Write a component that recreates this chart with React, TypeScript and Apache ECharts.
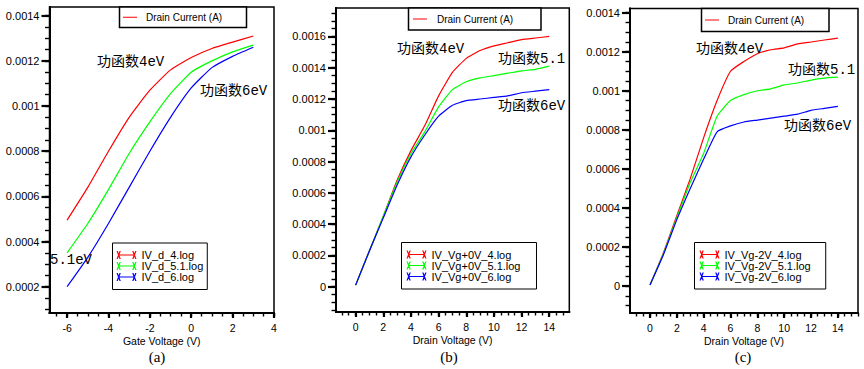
import React, { useEffect, useRef } from 'react';
import * as echarts from 'echarts';

// ---------- data ----------
const gateVoltage = [-6, -5, -4, -3, -2, -1, 0, 1, 2, 3];
const idA_4eV = [0.000495, 0.00064, 0.0008, 0.00095, 0.00107, 0.00116, 0.001215, 0.001255, 0.001283, 0.00131];
const idA_51eV = [0.00035, 0.00048, 0.00063, 0.00079, 0.00093, 0.001055, 0.00115, 0.0012, 0.00124, 0.00127];
const idA_6eV = [0.0002, 0.00033, 0.00048, 0.00064, 0.0008, 0.00095, 0.00108, 0.00117, 0.00122, 0.00126];

const drainVoltage = [0, 1, 2, 3, 4, 5, 6, 7, 8, 9, 10, 11, 12, 13, 14];
const idB_4eV = [0.00001, 0.00023, 0.00045, 0.00068, 0.00087, 0.00103, 0.00122, 0.00137, 0.00146, 0.00151, 0.00154, 0.00156, 0.00158, 0.00159, 0.0016];
const idB_51eV = [0.00001, 0.00023, 0.00045, 0.00067, 0.00085, 0.00099, 0.00115, 0.00126, 0.00131, 0.001335, 0.00135, 0.001365, 0.00138, 0.00139, 0.00141];
const idB_6eV = [0.00001, 0.00023, 0.00044, 0.00065, 0.00083, 0.00097, 0.00109, 0.00116, 0.00119, 0.0012, 0.00121, 0.00122, 0.00124, 0.00125, 0.00126];

const idC_4eV = [0.000005, 0.00017, 0.00036, 0.00055, 0.00076, 0.00095, 0.0011, 0.00115, 0.00119, 0.00121, 0.00122, 0.00124, 0.00125, 0.00126, 0.00127];
const idC_51eV = [0.000005, 0.000165, 0.00035, 0.00053, 0.00068, 0.00087, 0.00095, 0.00098, 0.001, 0.00101, 0.00103, 0.00104, 0.001055, 0.001065, 0.00107];
const idC_6eV = [0.000005, 0.00016, 0.00034, 0.0005, 0.00065, 0.00079, 0.00082, 0.00084, 0.00085, 0.00086, 0.00087, 0.00088, 0.0009, 0.00091, 0.00092];

const namesA = ['IV_d_4.log', 'IV_d_5.1.log', 'IV_d_6.log'];
const namesB = ['IV_Vg+0V_4.log', 'IV_Vg+0V_5.1.log', 'IV_Vg+0V_6.log'];
const namesC = ['IV_Vg-2V_4.log', 'IV_Vg-2V_5.1.log', 'IV_Vg-2V_6.log'];

const xTicksA = [-6, -4, -2, 0, 2, 4];
const xTicksBC = [0, 2, 4, 6, 8, 10, 12, 14];
const yTicksA = [0.0002, 0.0004, 0.0006, 0.0008, 0.001, 0.0012, 0.0014];
const yTicksB = [0, 0.0002, 0.0004, 0.0006, 0.0008, 0.001, 0.0012, 0.0014, 0.0016];
const yTicksC = [0, 0.0002, 0.0004, 0.0006, 0.0008, 0.001, 0.0012, 0.0014];

const xTitleA = 'Gate Voltage (V)';
const xTitleBC = 'Drain Voltage (V)';
const yTitle = 'Drain Current (A)';
const captions = ['(a)', '(b)', '(c)'];
const labelsA = ['功函数4eV', '功函数6eV', '5.1eV'];
const labelsBC = ['功函数4eV', '功函数5.1', '功函数6eV'];

// ---------- styling ----------
const COLORS = ['#ff0000', '#00ff00', '#0000ff'];
const SANS = '"Liberation Sans", Arial, sans-serif';
const MONO_CJK = '"Liberation Mono", "Noto Sans CJK SC", monospace';
const SERIF = '"Liberation Serif", "DejaVu Serif", serif';
const LEGEND_ICON =
  'path://M0,0L1.3,0L4.3,8L3,8ZM3,0L4.3,0L1.3,8L0,8ZM2,3.4L18,3.4L18,4.6L2,4.6ZM15.7,0L17,0L20,8L18.7,8ZM18.7,0L20,0L17,8L15.7,8Z';

function steps(from: number, to: number, step: number): number[] {
  const out: number[] = [];
  const n = Math.round((to - from) / step);
  for (let i = 0; i <= n; i++) out.push(+(from + i * step).toFixed(8));
  return out;
}

const fmtY = (v: number) => {
  const r = parseFloat(Number(v).toPrecision(4));
  return r === 0 ? '0' : String(r);
};

function axisPair(
  isX: boolean,
  gridIndex: number,
  min: number,
  max: number,
  labels: number[],
  minors: number[],
  name?: string
) {
  const major: any = {
    type: 'value',
    gridIndex,
    min,
    max,
    position: isX ? 'bottom' : 'left',
    z: 5,
    splitLine: { show: false },
    axisLine: { show: true, onZero: false, lineStyle: { color: '#000', width: 2 } },
    axisTick: { show: true, customValues: labels, length: isX ? 5 : 8, lineStyle: { color: '#000', width: 2.2 } },
    axisLabel: {
      show: true,
      customValues: labels,
      formatter: isX ? (v: number) => String(v) : fmtY,
      fontFamily: SANS,
      fontSize: isX ? 10.5 : 11,
      color: '#000',
      margin: isX ? 9 : 10,
    },
  };
  if (name) {
    major.name = name;
    major.nameLocation = 'middle';
    major.nameGap = 22;
    major.nameMoveOverlap = false;
    major.nameTextStyle = { fontFamily: SANS, fontSize: 10.5, color: '#000' };
  }
  const minor: any = {
    type: 'value',
    gridIndex,
    min,
    max,
    position: isX ? 'bottom' : 'left',
    z: 6,
    splitLine: { show: false },
    axisLine: { show: true, onZero: false, lineStyle: { color: '#000', width: 2 } },
    axisTick: {
      show: true,
      customValues: minors,
      length: isX ? 3.5 : 4.5,
      lineStyle: { color: '#000', width: 1.4 },
    },
    axisLabel: { show: false },
  };
  return [major, minor];
}

function lineSeries(name: string, xs: number[], ys: number[], color: string, axisIndex: number) {
  return {
    type: 'line',
    name,
    xAxisIndex: axisIndex,
    yAxisIndex: axisIndex,
    data: xs.map((x, i) => [x, ys[i]]),
    showSymbol: false,
    symbol: 'none',
    smooth: 0.15,
    lineStyle: { color, width: 1.2 },
    itemStyle: { color },
    z: 3,
  };
}

function legendFor(names: string[], left: number, top: number, padding: number[]) {
  return {
    orient: 'vertical',
    left,
    top,
    padding,
    itemGap: 0,
    itemWidth: 20,
    itemHeight: 8,
    icon: LEGEND_ICON,
    selectedMode: false,
    backgroundColor: '#fff',
    borderColor: '#000',
    borderWidth: 1,
    itemStyle: { borderWidth: 0 },
    textStyle: { fontFamily: SANS, fontSize: 11, lineHeight: 11, color: '#000' },
    data: names.map((n, i) => ({ name: n, itemStyle: { color: COLORS[i], borderWidth: 0 } })),
  };
}

function currentBox(x: number, y: number, w: number, h: number, lineX: number, textX: number) {
  const cy = y + h / 2;
  return [
    { type: 'rect', z: 20, shape: { x, y, width: w, height: h }, style: { fill: '#fff', stroke: '#000', lineWidth: 1.5 } },
    { type: 'line', z: 21, shape: { x1: lineX, y1: cy, x2: lineX + 14, y2: cy }, style: { stroke: '#ff0000', lineWidth: 1 } },
    {
      type: 'text',
      z: 21,
      x: textX,
      y: cy,
      style: { text: yTitle, fontFamily: SANS, fontSize: 10, fill: '#000', textVerticalAlign: 'middle' },
    },
  ];
}

function note(text: string, x: number, y: number) {
  return {
    type: 'text',
    z: 15,
    x,
    y,
    style: { text, fontFamily: MONO_CJK, fontSize: 14, fill: '#000', textVerticalAlign: 'middle' },
  };
}

function caption(text: string, cx: number, y: number) {
  return {
    type: 'text',
    z: 15,
    x: cx,
    y,
    style: { text, fontFamily: SERIF, fontSize: 15, fill: '#000', textAlign: 'center', textVerticalAlign: 'middle' },
  };
}

export default function App() {
  const ref = useRef<HTMLDivElement>(null);

  useEffect(() => {
    document.body.style.margin = '0';
    if (!ref.current) return;
    const chart = echarts.init(ref.current, undefined, { renderer: 'svg' });

    const grids = [
      { left: 49.5, top: 7, width: 224.5, height: 306 },
      { left: 336, top: 8, width: 233.3, height: 304 },
      { left: 630, top: 8.5, width: 228, height: 304.5 },
    ].map((g) => ({ ...g, show: true, borderColor: '#000', borderWidth: 1.5, backgroundColor: 'transparent', containLabel: false, outerBoundsMode: 'none' }));

    const xAxis = [
      ...axisPair(true, 0, -6.85, 4.0, xTicksA, steps(-6.5, 4, 0.5), xTitleA),
      ...axisPair(true, 1, -1.42, 15.45, xTicksBC, steps(-1, 15, 0.5), xTitleBC),
      ...axisPair(true, 2, -1.49, 15.5, xTicksBC, steps(-1, 15.5, 0.5), xTitleBC),
    ];
    const yAxis = [
      ...axisPair(false, 0, 0.0000836, 0.0014385, yTicksA, steps(0.0001, 0.0014, 0.00005)),
      ...axisPair(false, 1, -0.000162, 0.001782, yTicksB, steps(-0.00015, 0.00175, 0.00005)),
      ...axisPair(false, 2, -0.0001383, 0.0014215, yTicksC, steps(-0.0001, 0.0014, 0.00005)),
    ];

    const series = [
      lineSeries(namesA[0], gateVoltage, idA_4eV, COLORS[0], 0),
      lineSeries(namesA[1], gateVoltage, idA_51eV, COLORS[1], 0),
      lineSeries(namesA[2], gateVoltage, idA_6eV, COLORS[2], 0),
      lineSeries(namesB[0], drainVoltage, idB_4eV, COLORS[0], 2),
      lineSeries(namesB[1], drainVoltage, idB_51eV, COLORS[1], 2),
      lineSeries(namesB[2], drainVoltage, idB_6eV, COLORS[2], 2),
      lineSeries(namesC[0], drainVoltage, idC_4eV, COLORS[0], 4),
      lineSeries(namesC[1], drainVoltage, idC_51eV, COLORS[1], 4),
      lineSeries(namesC[2], drainVoltage, idC_6eV, COLORS[2], 4),
    ];

    const graphic = [
      ...currentBox(119.5, 7, 127, 20.5, 123, 146),
      ...currentBox(408.5, 8, 132.5, 22, 413, 437),
      ...currentBox(701.5, 8.5, 127.5, 23, 705, 728),
      note(labelsA[0], 97, 62),
      note(labelsA[1], 200, 91),
      note(labelsA[2], 50, 260),
      note(labelsBC[0], 397, 49),
      note(labelsBC[1], 498, 59),
      note(labelsBC[2], 498, 106),
      note(labelsBC[0], 696, 49),
      note(labelsBC[1], 788, 70),
      note(labelsBC[2], 784, 126),
      caption(captions[0], 157, 357),
      caption(captions[1], 449, 357),
      caption(captions[2], 743, 357),
    ];

    chart.setOption({
      animation: false,
      backgroundColor: '#fff',
      grid: grids,
      xAxis,
      yAxis,
      series,
      legend: [
        legendFor(namesA, 112.5, 243, [6.5, 4, 7, 4]),
        legendFor(namesB, 401.5, 242.5, [6.5, 16, 7, 5]),
        legendFor(namesC, 694.5, 242.5, [6.5, 15, 7, 5]),
      ],
      graphic,
    });

    return () => chart.dispose();
  }, []);

  return <div ref={ref} style={{ width: 864, height: 369 }} />;
}
